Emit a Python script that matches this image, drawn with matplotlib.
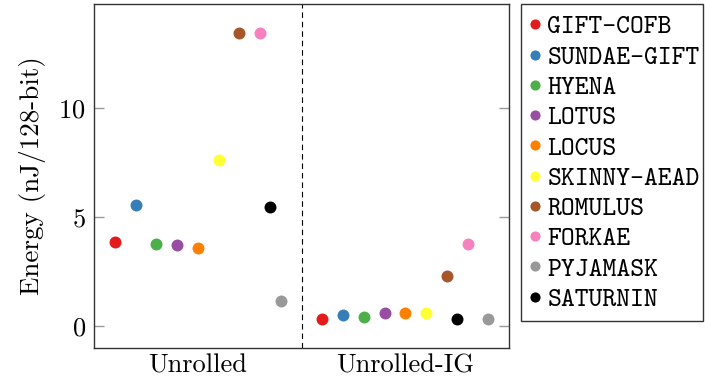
import numpy as np
import matplotlib
matplotlib.use('Agg')
import matplotlib.pyplot as plt
from matplotlib.patches import Rectangle

plt.rcParams['font.family'] = 'cmr10'
plt.rcParams['axes.formatter.use_mathtext'] = True
plt.rcParams['mathtext.fontset'] = 'cm'

groups = ['Unrolled', 'Unrolled-IG']
schemes = ['GIFT-COFB', 'SUNDAE-GIFT', 'HYENA', 'LOTUS', 'LOCUS',
           'SKINNY-AEAD', 'ROMULUS', 'FORKAE', 'PYJAMASK', 'SATURNIN']
energy_unrolled = [3.85, 5.56, 3.77, 3.71, 3.60, 7.60, 13.42, 13.42, 1.16, 5.46]
energy_unrolled_ig = [0.35, 0.50, 0.43, 0.59, 0.58, 0.62, 2.31, 3.76, 0.35, 0.35]
colors = ['#e41a1c', '#377eb8', '#4daf4a', '#984ea3', '#ff7f00',
          '#ffff33', '#a65628', '#f781bf', '#999999', '#000000']

# horizontal offset of each scheme inside its group
offs_unrolled = [-0.40, -0.30, -0.20, -0.10, 0.0, 0.10, 0.20, 0.30, 0.40, 0.35]
offs_ig = [-0.40, -0.30, -0.20, -0.10, 0.0, 0.10, 0.20, 0.30, 0.40, 0.25]

W, H = 705, 386
fig = plt.figure(figsize=(W / 100, H / 100), dpi=100)
ax = fig.add_axes([94 / W, 1 - 348 / H, 415 / W, 344 / H])

for i, name in enumerate(schemes):
    xs = [0 + offs_unrolled[i], 1 + offs_ig[i]]
    ys = [energy_unrolled[i], energy_unrolled_ig[i]]
    ax.plot(xs, ys, linestyle='none', marker='o', markersize=8.6,
            color=colors[i], markeredgewidth=0, label=name)

ax.axvline(0.5, color='black', lw=0.8, dashes=(5, 3.5))

ax.set_xlim(-0.5, 1.5)
ax.set_ylim(-1.0, 14.75)
ax.set_xticks([0, 1])
ax.set_xticklabels(groups)
ax.set_yticks([0, 5, 10])
ax.tick_params(axis='x', length=0, labelsize=19, pad=4)
ax.tick_params(axis='y', direction='in', length=7.5, color='#999999',
               width=1, left=True, right=True, labelsize=19, pad=6)
for sp in ax.spines.values():
    sp.set_color('#333333')
    sp.set_linewidth(1)
ax.set_ylabel('Energy (nJ/128-bit)', fontsize=19.5, labelpad=9)

# legend box drawn separately so its padding can match the original
fig.patches.append(Rectangle((521 / W, 1 - 321 / H), 182 / W, 317 / H,
                             transform=fig.transFigure, fill=False,
                             ec='#333333', lw=1))
leg = fig.legend(loc='upper left', bbox_to_anchor=(528.5 / W, 1 - 15 / H),
                 borderaxespad=0, borderpad=0, frameon=False,
                 prop={'family': 'cmtt10', 'size': 19},
                 handlelength=0.5, handletextpad=0.21, labelspacing=0.22,
                 markerscale=0.85)

fig.savefig('out.png', dpi=100)
